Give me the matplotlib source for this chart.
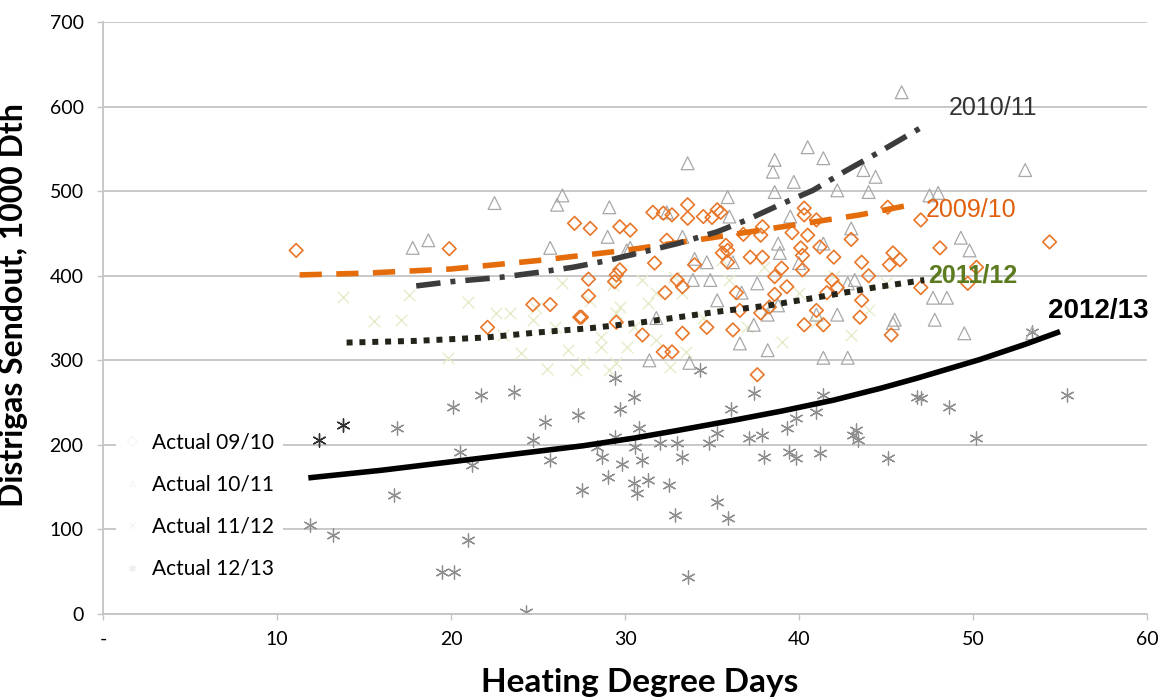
import matplotlib
matplotlib.use("Agg")
import matplotlib.pyplot as plt
from matplotlib.lines import Line2D

# Actual 09/10 (orange diamonds)
hdd_0910 = [11.1, 19.9, 22.1, 24.7, 25.7, 27.1, 28.0, 29.7, 30.3, 27.9, 27.9, 29.7, 29.4, 27.5,
            31.6, 32.2, 33.6, 33.6, 32.4, 32.7, 35.3, 35.0, 31.7, 32.3, 33.0, 33.3, 34.0, 35.6,
            35.8, 35.9, 34.7, 33.3, 35.5, 40.3, 40.3, 37.9, 37.8, 39.6, 40.5, 41.0, 35.9, 37.2,
            37.9, 40.1, 40.2, 41.2, 42.0, 40.2, 38.6, 39.3, 41.9, 42.2, 43.6, 41.6, 41.0, 37.8,
            38.3, 36.6, 36.2, 40.3, 41.4, 43.5, 43.6, 45.4, 45.8, 45.2, 48.1, 47.0, 45.1, 47.0,
            49.7, 50.2, 45.3, 54.4, 37.6, 29.5, 32.2, 32.7, 27.4, 29.5, 31.0, 36.4, 38.6, 34.5,
            36.8, 39.0, 43.0, 44.0]
send_0910 = [430, 432, 339, 366, 366, 462, 456, 458, 454, 396, 376, 407, 393, 351,
             475, 474, 484, 468, 442, 472, 478, 469, 415, 380, 395, 387, 413, 427,
             436, 416, 339, 332, 475, 480, 472, 458, 448, 451, 448, 466, 430, 422,
             422, 433, 424, 434, 422, 407, 399, 387, 395, 386, 371, 380, 359, 356,
             363, 359, 336, 342, 342, 351, 416, 427, 419, 413, 433, 466, 481, 386,
             391, 410, 330, 440, 283, 401, 310, 310, 351, 345, 330, 380, 378, 470,
             449, 409, 443, 400]

# Actual 10/11 (grey triangles)
hdd_1011 = [17.8, 18.7, 22.5, 26.1, 26.4, 25.7, 29.1, 29.0, 30.1, 33.6, 30.3, 32.4, 33.3, 34.7,
            34.9, 35.9, 35.3, 33.9, 31.8, 45.9, 40.5, 41.4, 38.6, 38.5, 39.7, 38.6, 42.2, 43.7,
            44.4, 44.0, 47.5, 48.0, 43.0, 38.8, 38.9, 41.4, 36.2, 37.6, 42.8, 43.2, 47.7, 48.5,
            38.8, 38.2, 47.8, 49.5, 45.4, 41.0, 42.2, 36.7, 37.4, 53.4, 53.0, 49.3, 49.8, 31.4,
            33.7, 36.6, 38.2, 41.4, 42.8, 40.0, 34.0, 36.0, 39.5, 45.5]
send_1011 = [433, 442, 486, 484, 495, 433, 481, 446, 430, 533, 433, 475, 446, 416,
             395, 493, 371, 395, 350, 617, 552, 539, 537, 523, 511, 499, 501, 525,
             517, 499, 495, 498, 456, 438, 427, 438, 416, 391, 391, 395, 374, 374,
             365, 354, 348, 332, 344, 354, 354, 380, 342, 332, 525, 445, 430, 300,
             297, 320, 312, 303, 303, 415, 420, 470, 470, 348]

# Actual 11/12 (pale yellow-green crosses)
hdd_1112 = [13.8, 15.6, 17.1, 17.6, 19.8, 21.0, 22.6, 24.9, 24.0, 26.4, 26.7, 27.2, 28.6, 29.3,
            29.7, 30.1, 29.1, 31.0, 31.3, 31.8, 32.6, 32.8, 31.8, 33.3, 24.7, 23.4, 29.5, 35.6,
            28.6, 29.5, 27.6, 36.0, 38.0, 40.0, 42.0, 44.0, 37.0, 39.0, 41.0, 43.0, 45.0, 34.5,
            33.5, 26.0, 28.0, 30.5, 25.5, 23.0]
send_1112 = [375, 346, 348, 377, 303, 369, 356, 362, 309, 391, 312, 289, 328, 389,
             363, 316, 289, 395, 368, 324, 292, 399, 380, 380, 348, 356, 356, 419,
             316, 297, 297, 395, 410, 380, 400, 360, 340, 322, 345, 330, 392, 350,
             310, 340, 370, 340, 290, 330]

# Actual 12/13 (grey asterisks)
hdd_1213 = [16.9, 20.1, 16.7, 11.9, 13.2, 21.0, 19.5, 20.2, 20.5, 21.2, 21.7, 23.6, 24.7, 25.4,
            27.3, 27.5, 24.3, 29.4, 30.5, 29.7, 28.7, 29.0, 29.8, 30.5, 30.7, 31.0, 25.7, 30.8,
            28.4, 29.4, 30.6, 31.3, 32.0, 33.0, 33.3, 32.5, 32.9, 35.3, 35.9, 33.6, 34.8, 35.3,
            36.1, 37.4, 37.1, 37.9, 38.0, 39.3, 39.8, 39.4, 39.8, 41.0, 41.4, 41.2, 43.3, 43.4,
            43.1, 45.1, 46.8, 47.0, 48.6, 50.2, 55.4, 53.4, 34.3]
send_1213 = [220, 245, 141, 105, 93, 88, 50, 50, 192, 176, 259, 263, 206, 227,
             235, 147, 2, 279, 257, 243, 186, 162, 178, 155, 143, 182, 182, 220,
             197, 209, 197, 158, 202, 202, 186, 153, 117, 132, 114, 44, 202, 214,
             243, 261, 208, 212, 186, 220, 232, 192, 184, 239, 259, 190, 218, 206,
             212, 184, 257, 256, 245, 208, 259, 333, 288]
hdd_1213_dark = [12.4, 13.8]
send_1213_dark = [206, 223]

# trend lines
trend_0910_x = [11.3, 15, 20, 25, 30, 35, 40, 43.5, 46.7]
trend_0910_y = [401, 403, 408, 418, 430, 445, 461, 472, 485]
trend_1011_x = [18.0, 20, 22.8, 25, 27, 29, 31, 33, 35.3, 37, 38.9, 40.8, 42.6, 44.5, 47.0]
trend_1011_y = [388, 393, 398, 404, 410, 418, 428, 438, 452, 466, 484, 501, 523, 545, 575]
trend_1112_x = [14.0, 16, 18, 20, 22, 25, 28, 31, 35.5, 38.3, 41.2, 44.3, 47.2]
trend_1112_y = [321, 322, 323, 325, 327, 333, 338, 345, 358, 365, 375, 386, 395]
trend_1213_x = [11.8, 16, 20, 24, 27.6, 30.5, 33, 36.2, 39, 42, 44.7, 46.8, 50.4, 53, 55.0]
trend_1213_y = [161, 170, 180, 190, 199, 208, 217, 229, 240, 253, 267, 279, 301, 319, 334]

x_ticks = [0, 10, 20, 30, 40, 50, 60]
x_tick_labels = ["-", "10", "20", "30", "40", "50", "60"]
y_ticks = [0, 100, 200, 300, 400, 500, 600, 700]

ORANGE = "#e8772a"
TRI_GREY = "#a8a8a8"
AST_GREY = "#8e8e8e"
PALE = "#e6ebc9"

fig = plt.figure(figsize=(11.6, 6.98), dpi=100)
ax = fig.add_axes([0.0888, 0.1203, 0.9, 0.8481])

ax.scatter(hdd_1112, send_1112, marker="x", s=70, color=PALE, linewidths=1.0, zorder=2)
ax.scatter(hdd_1213, send_1213, marker=(6, 2, 0), s=90, color=AST_GREY, linewidths=0.9, zorder=2)
ax.scatter(hdd_1213_dark, send_1213_dark, marker=(6, 2, 0), s=90, color="#303030",
           linewidths=1.0, zorder=2)
ax.scatter(hdd_1011, send_1011, marker="^", s=85, facecolors="none", edgecolors=TRI_GREY,
           linewidths=0.9, zorder=3)
ax.scatter(hdd_0910, send_0910, marker="D", s=48, facecolors="none", edgecolors=ORANGE,
           linewidths=1.2, zorder=3)

ax.plot(trend_0910_x, trend_0910_y, color="#e46c0a", lw=4, ls=(0, (4, 2.6)), zorder=4)
ax.plot(trend_1011_x, trend_1011_y, color="#3c3c3c", lw=4, ls=(0, (4.4, 1.8, 0.9, 1.8)), zorder=4)
ax.plot(trend_1112_x, trend_1112_y, color="#24241a", lw=4.3, ls=(0, (1, 1.15)), zorder=4)
ax.plot(trend_1213_x, trend_1213_y, color="black", lw=4, solid_capstyle="butt", zorder=4)

ax.text(48.6, 598, "2010/11", fontsize=18, color="#333333", family="Liberation Sans",
        va="center", ha="left", zorder=5)
ax.text(47.3, 478, "2009/10", fontsize=18, color="#e0600f", family="Liberation Sans",
        va="center", ha="left", zorder=5)
ax.text(47.4, 400, "2011/12", fontsize=18, color="#5b7b1e", family="Liberation Sans",
        fontweight="bold", va="center", ha="left", zorder=5)
ax.text(54.3, 358, "2012/13", fontsize=20, color="black", family="Liberation Sans",
        fontweight="bold", va="center", ha="left", zorder=5)

ax.set_xlim(0, 60)
ax.set_ylim(0, 700)
ax.set_xticks(x_ticks)
ax.set_xticklabels(x_tick_labels)
ax.set_yticks(y_ticks)
ax.grid(axis="y", color="#c4c4c4", lw=1.3, zorder=0)
ax.set_axisbelow(True)
for side in ["top", "right"]:
    ax.spines[side].set_visible(False)
for side in ["left", "bottom"]:
    ax.spines[side].set_color("#c4c4c4")
    ax.spines[side].set_linewidth(1.3)
ax.tick_params(axis="both", colors="#c4c4c4", labelcolor="black", labelsize=14,
               length=4, width=1)
ax.tick_params(axis="x", pad=8)
ax.tick_params(axis="y", pad=10)
for lbl in ax.get_xticklabels() + ax.get_yticklabels():
    lbl.set_family("Lato")

ax.set_ylabel("Distrigas Sendout, 1000 Dth", fontsize=23, fontweight="bold", family="Lato")
ax.set_xlabel("Heating Degree Days", fontsize=24, fontweight="bold", family="Lato")
ax.yaxis.set_label_coords(-0.072, 0.522)
ax.xaxis.set_label_coords(0.514, -0.092)

# legend markers are almost washed out in the original
handles = [Line2D([], [], ls="none", marker="D", mfc="none", mec="#f6f6f6", ms=5),
           Line2D([], [], ls="none", marker="^", mfc="none", mec="#f6f6f6", ms=5),
           Line2D([], [], ls="none", marker="x", mec="#f6f6f6", ms=5),
           Line2D([], [], ls="none", marker=(6, 2, 0), mec="#eeeeee", ms=5)]
labels = ["Actual 09/10", "Actual 10/11", "Actual 11/12", "Actual 12/13"]
leg = ax.legend(handles, labels, loc="upper left", bbox_to_anchor=(0.002, 0.339),
                frameon=True, facecolor="white", edgecolor="none", framealpha=1,
                handlelength=0.8, handletextpad=0.56, labelspacing=1.07,
                borderpad=0.4, prop={"family": "Lato", "size": 15})
leg.set_zorder(3.5)

fig.savefig("out.png", dpi=100, facecolor="white")
